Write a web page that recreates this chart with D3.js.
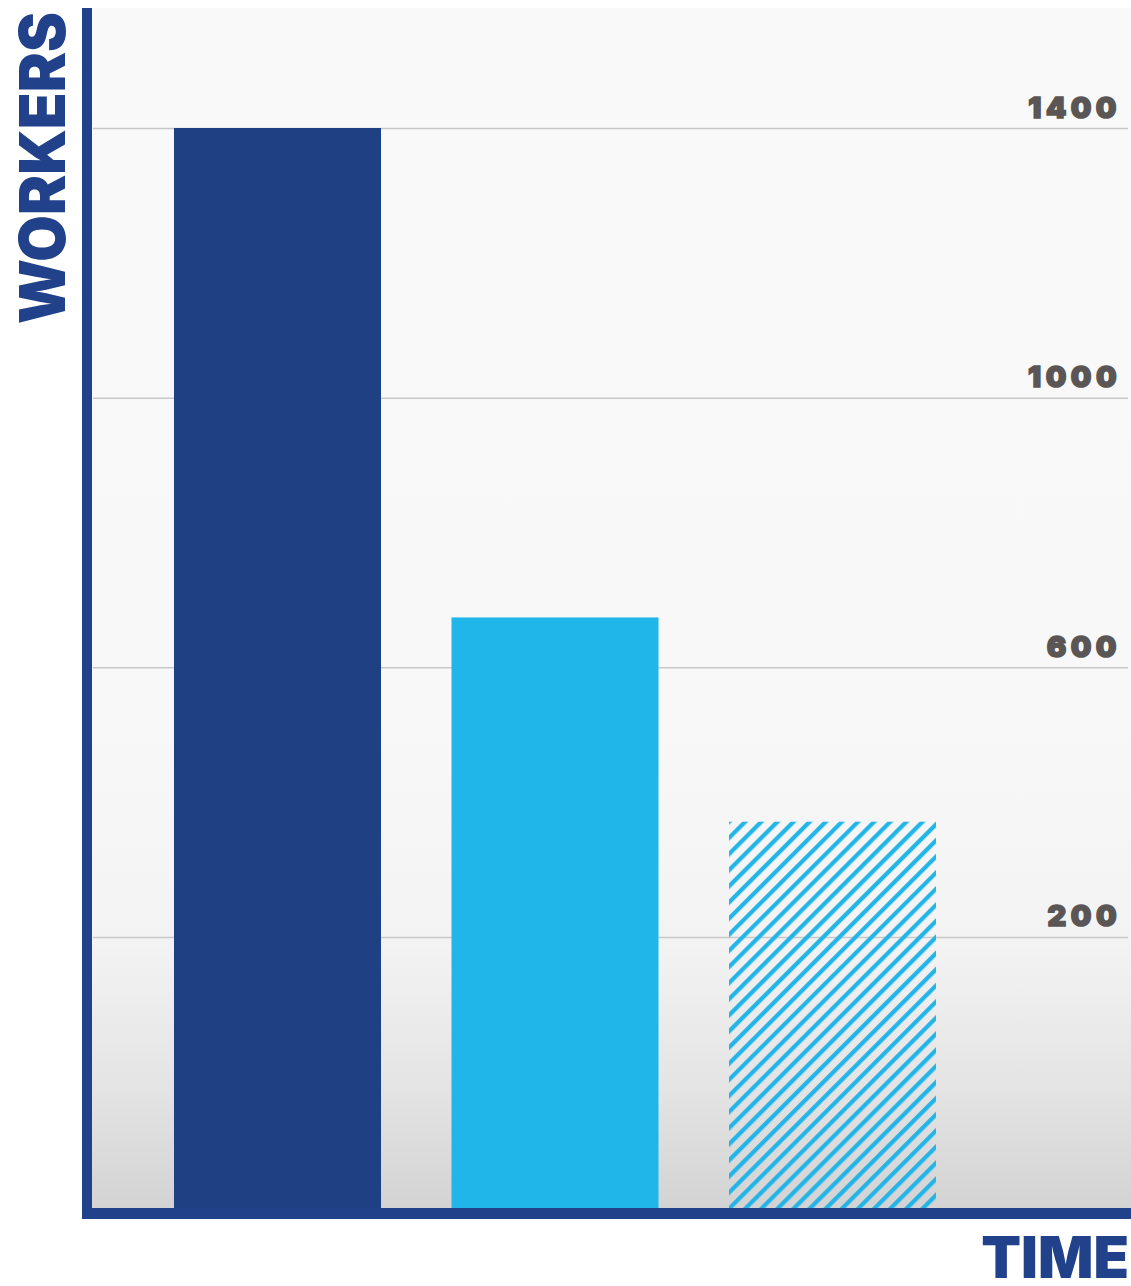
<!DOCTYPE html>
<html>
<head>
<meta charset="utf-8">
<script src="https://cdn.jsdelivr.net/npm/d3@7"></script>
<style>
  html, body { margin: 0; padding: 0; background: #ffffff; }
  svg { display: block; }
</style>
</head>
<body>
<div id="chart"></div>
<script>
// ---- data ----
const categories = ["Period 1", "Period 2", "Period 3"];
const values = [1400, 674, 371];
const barStyles = ["solid-dark", "solid-light", "hatched"];
const tickValues = [1400, 1000, 600, 200];
const tickLabels = ["1400", "1000", "600", "200"];
const yAxisTitle = "WORKERS";
const xAxisTitle = "TIME";

// ---- layout ----
const W = 1131, H = 1286;
const plotLeft = 92, plotRight = 1131, plotTop = 8, plotBottom = 1208;

const svg = d3.select("#chart").append("svg")
  .attr("width", W).attr("height", H);

const defs = svg.append("defs");
const grad = defs.append("linearGradient")
  .attr("id", "bg").attr("x1", 0).attr("y1", 0).attr("x2", 0).attr("y2", 1);
[[0, "#f9f9f9"], [0.6, "#f8f8f8"], [0.78, "#f3f3f3"], [0.9, "#e4e4e4"], [1, "#d3d3d3"]]
  .forEach(([o, c]) => grad.append("stop").attr("offset", o).attr("stop-color", c));

const pat = defs.append("pattern")
  .attr("id", "hatch").attr("patternUnits", "userSpaceOnUse")
  .attr("width", 11.4).attr("height", 11.4)
  .attr("patternTransform", "rotate(45)");
pat.append("line")
  .attr("x1", 2.2).attr("y1", 0).attr("x2", 2.2).attr("y2", 11.4)
  .attr("stroke", "#21b4e8").attr("stroke-width", 4.2);

// background of plot
svg.append("rect")
  .attr("x", plotLeft).attr("y", plotTop)
  .attr("width", plotRight - plotLeft).attr("height", plotBottom - plotTop)
  .attr("fill", "url(#bg)");

// scales
const y = d3.scaleLinear().domain([-202, 1578]).range([plotBottom, plotTop]);
const x = d3.scaleBand().domain(categories).range([103.5, 1006.5])
  .paddingInner(0.254).paddingOuter(0.254);

// gridlines (behind bars)
const grid = d3.axisRight(y).tickValues(tickValues).tickFormat("").tickSize(0);
const gGrid = svg.append("g").call(grid);
gGrid.select(".domain").remove();
gGrid.selectAll(".tick text").remove();
gGrid.selectAll(".tick").append("line")
  .attr("x1", plotLeft + 1).attr("x2", 1128)
  .attr("stroke", "#c8c8c8").attr("stroke-width", 1.5);

// bars
const fills = { "solid-dark": "#1f4184", "solid-light": "#21b6ea", "hatched": "url(#hatch)" };
svg.append("g").selectAll("rect")
  .data(categories)
  .join("rect")
  .attr("x", d => x(d))
  .attr("width", x.bandwidth())
  .attr("y", (d, i) => y(values[i]))
  .attr("height", (d, i) => y.range()[0] - y(values[i]))
  .attr("fill", (d, i) => fills[barStyles[i]]);

// tick labels
const labels = d3.axisRight(y).tickValues(tickValues)
  .tickFormat((d, i) => tickLabels[i]).tickSize(0);
const gLab = svg.append("g").call(labels);
gLab.select(".domain").remove();
gLab.selectAll(".tick text")
  .attr("x", 1121).attr("dy", -11)
  .attr("text-anchor", "end")
  .attr("fill", "#5a5656")
  .attr("stroke", "#5a5656").attr("stroke-width", 1.6)
  .attr("font-family", "Inter, 'DejaVu Sans', sans-serif")
  .attr("font-weight", 900)
  .attr("font-size", 29)
  .attr("letter-spacing", 4.5);

// axes lines
const axisColor = "#21418a";
svg.append("rect").attr("x", 82).attr("y", plotTop).attr("width", 10).attr("height", 1219 - plotTop).attr("fill", axisColor);
svg.append("rect").attr("x", 82).attr("y", plotBottom).attr("width", W - 82).attr("height", 11).attr("fill", axisColor);

// titles
svg.append("text")
  .attr("transform", "translate(65,324) rotate(-90)")
  .attr("fill", axisColor)
  .attr("font-family", "Inter, 'DejaVu Sans', sans-serif")
  .attr("font-weight", 900)
  .attr("font-size", 63)
  .attr("textLength", 312).attr("lengthAdjust", "spacingAndGlyphs")
  .text(yAxisTitle);

svg.append("text")
  .attr("x", 1129).attr("y", 1278)
  .attr("text-anchor", "end")
  .attr("fill", axisColor)
  .attr("font-family", "Inter, 'DejaVu Sans', sans-serif")
  .attr("font-weight", 900)
  .attr("font-size", 58)
  .text(xAxisTitle);
</script>
</body>
</html>
